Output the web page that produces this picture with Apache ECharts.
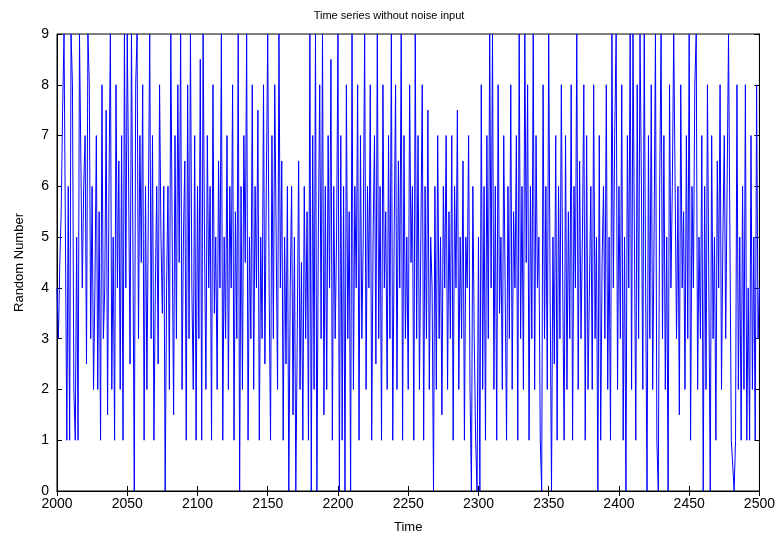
<!DOCTYPE html>
<html><head><meta charset="utf-8">
<script src="https://cdn.jsdelivr.net/npm/echarts@6/dist/echarts.min.js"></script>
<style>html,body{margin:0;padding:0;background:#fff}#c{width:778px;height:539px}</style>
</head><body><div id="c"></div>
<script>
var startTime = 2000;
var values = [
4,3,4.5,5.5,7.5,9,9,1,6,1,9,8,2,1,5,1,9,9,4,6,
7,2.5,9,8,3,6,2,4,7,2,5.5,1,8,3,4,7.5,1.5,6,9,2,
5,1,8,4,6.5,2,7,1,9,4,9,6,2.5,9,5,0,8,9,3,7,
4.5,8,1,6,2,5.5,9,3,7,1,4,6,2.5,8,5,3.5,6,0,4,6,
2,9,5,1.5,7,3,8,4.5,9,2,5,6.5,1,8,3,9,4,2,7,1,
6,3,8.5,1,9,5,2,7,4,6,1,8,3.5,5,2,6.5,4,9,1,5,
3,7,2,6,4,8,1,5.5,3,9,0,6,2,7,4.5,9,1,5,3,8,
2,6,4,7.5,1,5,3,8,2.5,6,9,4,1,7,3,8,5,2,9,4,
6.5,1,5,2.5,6,0,4,6,1.5,5,0,3,6.5,2,4.5,1,6,3,5.5,1,
9,0,7,2,9,0,5,8,3,9,1.5,6,2,7,4,8.5,1,6,3,5,
9,0,7,1,6,0,8,3,5.5,0,9,2,6,4,8,1,7,3,5,9,
2,6,4,8,1,5,7,2.5,9,3,6,1,8,4,5.5,2,7,3,9,1,
5,8,2,6.5,4,9,1,7,3,5,2,8,4.5,6,1,9,3,7,2,5,
8,1,6,3,7.5,2,5,4,0,6,2,7,3,5,1.5,6,4,7,2,5.5,
3,7,1,6,4,7.5,2,5,3,6.5,1,5,4,7,2,0,6,3,1,0,
5,0,8,2,6,1,7,3,9,4,9,2,6,1,8,3.5,5,2,7,4,
1,6,3,8,2,5.5,4,7,1,9,3,6,2,9,4.5,8,1,6,3,9,
2,7,4,5,1,0,8,3,6,2,9,4,0,5,2.5,7,1,6,3,8,
4,1,7,2,5.5,3,8,1,6,4,9,2,6.5,3,5,8,1,7,2,4,
6,2,8,3,5,0,7,1,4.5,6,3,8,2,5,1,9,4,7,9,2,
6,3,8,1,5,0,7,4,9,2,9,5,1,8,3,9,6,2,9,4,
0,7,3,8,2,5,9,1,0,6,9,3,7,2,5,0,8,4,6,9,
9,3,6,1.5,8,4,5.5,2,7,3,9,1,6,4,8,9,2,5,3,7,
0,6,2,8,4,0,7,3,5,1,6.5,4,8,2,5,7,3,6,9,9,
1,0.5,0,1,8,2,5,1,6,2,8,1,4,1,7,2,5,1,8,3,4
];
var xTicks = [2000,2050,2100,2150,2200,2250,2300,2350,2400,2450,2500];
var yTicks = [0,1,2,3,4,5,6,7,8,9];

var data = values.map(function(v,i){return [startTime+i, v];});
var font = 'Liberation Sans, Arial, sans-serif';
var chart = echarts.init(document.getElementById('c'));
var axLine = {show:true, lineStyle:{color:'#000', width:1}};
var tick = {show:true, inside:true, length:5, lineStyle:{color:'#000'}};
chart.setOption({
  animation:false,
  backgroundColor:'#fff',
  title:{text:'Time series without noise input', left:'center', top:5,
    textStyle:{fontFamily:font, fontSize:11, fontWeight:'normal', color:'#000'}},
  grid:{left:57, right:15, top:34, bottom:48, show:true, borderColor:'#000', borderWidth:1, backgroundColor:'#fff'},
  xAxis:[{type:'value', min:xTicks[0], max:xTicks[xTicks.length-1], interval:50,
    name:'Time', nameLocation:'middle', nameGap:30,
    nameTextStyle:{fontFamily:font, fontSize:13, color:'#000'},
    axisLine:axLine, axisTick:tick, splitLine:{show:false},
    axisLabel:{fontFamily:font, fontSize:14, color:'#000', margin:6,
      formatter:function(v){return String(v);}}},
    {type:'value', position:'top', min:2000, max:2500, interval:50,
    axisLine:axLine, axisTick:tick, axisLabel:{show:false}, splitLine:{show:false}}],
  yAxis:[{type:'value', min:yTicks[0], max:yTicks[yTicks.length-1], interval:1,
    name:'Random Number', nameLocation:'middle', nameGap:31,
    nameTextStyle:{fontFamily:font, fontSize:13, color:'#000'},
    axisLine:axLine, axisTick:tick, splitLine:{show:false},
    axisLabel:{fontFamily:font, fontSize:14, color:'#000', margin:8}},
    {type:'value', position:'right', min:0, max:9, interval:1,
    axisLine:axLine, axisTick:tick, axisLabel:{show:false}, splitLine:{show:false}}],
  series:[{type:'line', data:data, showSymbol:false, symbol:'none',
    lineStyle:{color:'#0000ff', width:1}, itemStyle:{color:'#0000ff'}}]
});
</script></body></html>
